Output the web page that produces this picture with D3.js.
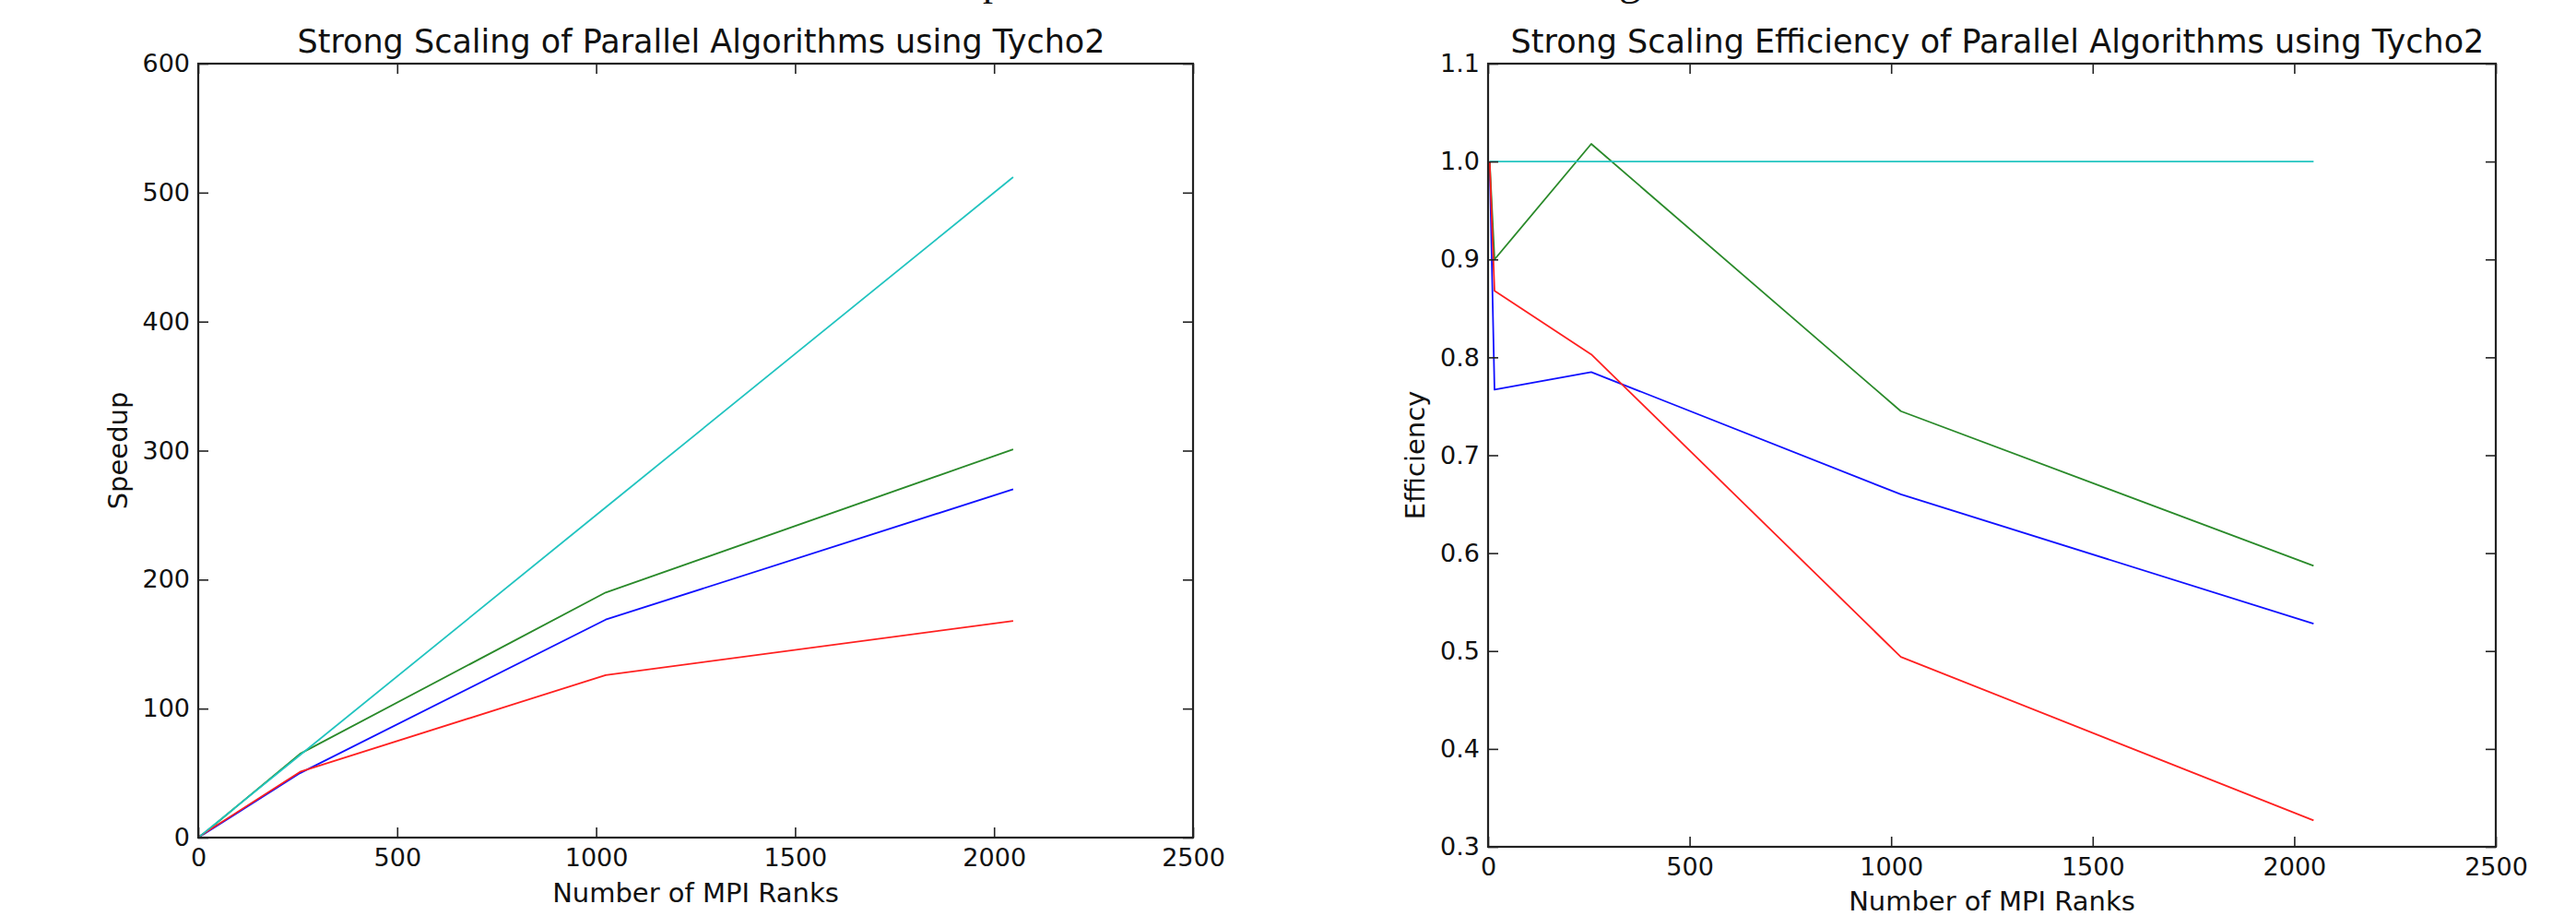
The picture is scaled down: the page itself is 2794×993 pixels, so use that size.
<!DOCTYPE html>
<html>
<head>
<meta charset="utf-8">
<script src="https://cdn.jsdelivr.net/npm/d3@7"></script>
<style>
  body { margin: 0; background: #fff; }
  svg text { font-family: "DejaVu Sans", sans-serif; fill: #111; }
</style>
</head>
<body>
<div id="chart"></div>
<script>
// data
const ranks = [4, 16, 256, 1024, 2048];
const seriesNames = ["blue", "green", "red", "cyan"];

const speedupBlue  = [1, 3.1, 50, 169, 270];
const speedupGreen = [1, 3.6, 65, 190, 301];
const speedupRed   = [1, 3.5, 51, 126, 168];
const speedupCyan  = [1, 4, 64, 256, 512];

const effBlue  = [1, 0.767, 0.785, 0.660, 0.528];
const effGreen = [1, 0.900, 1.018, 0.745, 0.587];
const effRed   = [1, 0.868, 0.803, 0.494, 0.327];
const effCyan  = [1, 1, 1, 1, 1];

const xTicks = [0, 500, 1000, 1500, 2000, 2500];
const speedupTicks = [0, 100, 200, 300, 400, 500, 600];
const effTicks = [0.3, 0.4, 0.5, 0.6, 0.7, 0.8, 0.9, 1.0, 1.1];

const colors = ["#1010ff", "#2a8a2a", "#ff2020", "#22c4c0"];

const svgWidth = 2794;
const svgHeight = 993;

const svg = d3.select("#chart")
    .append("svg")
    .attr("width", svgWidth)
    .attr("height", svgHeight);

// clipped caption fragments at the very top
svg.append("text")
    .attr("x", 1077).attr("y", -5)
    .attr("text-anchor", "middle")
    .style("font-family", "'Liberation Serif', serif")
    .style("font-size", "44px")
    .text("p");
svg.append("text")
    .attr("x", 1768).attr("y", -6)
    .attr("text-anchor", "middle")
    .style("font-family", "'Liberation Serif', serif")
    .style("font-size", "48px")
    .text("g");

function drawPanel(opt) {
  const g = svg.append("g");

  const x = d3.scaleLinear().domain([0, 2500]).range([opt.left, opt.right]);
  const y = d3.scaleLinear().domain(opt.yDomain).range([opt.bottom, opt.top]);

  // lines
  const line = d3.line()
      .x((d, i) => x(ranks[i]))
      .y(d => y(d));

  opt.series.forEach((vals, k) => {
    g.append("path")
        .datum(vals)
        .attr("d", line)
        .attr("fill", "none")
        .attr("stroke", colors[k])
        .attr("stroke-width", 1.8)
        .attr("stroke-linejoin", "round");
  });

  // axes, ticks pointing inward on all four sides
  const bottomAxis = d3.axisBottom(x).tickValues(xTicks)
      .tickFormat(d3.format("d")).tickSizeInner(-11).tickSizeOuter(0).tickPadding(12);
  const topAxis = d3.axisTop(x).tickValues(xTicks)
      .tickFormat("").tickSizeInner(-11).tickSizeOuter(0);
  const leftAxis = d3.axisLeft(y).tickValues(opt.yTicks)
      .tickFormat(opt.yFormat).tickSizeInner(-11).tickSizeOuter(0).tickPadding(9);
  const rightAxis = d3.axisRight(y).tickValues(opt.yTicks)
      .tickFormat("").tickSizeInner(-11).tickSizeOuter(0);

  const axes = [
    g.append("g").attr("transform", `translate(0, ${opt.bottom})`).call(bottomAxis),
    g.append("g").attr("transform", `translate(0, ${opt.top})`).call(topAxis),
    g.append("g").attr("transform", `translate(${opt.left}, 0)`).call(leftAxis),
    g.append("g").attr("transform", `translate(${opt.right}, 0)`).call(rightAxis)
  ];
  axes.forEach(a => {
    a.select(".domain").remove();
    a.selectAll(".tick line").attr("stroke", "#222").attr("stroke-width", 1.6);
    a.selectAll(".tick text")
        .style("font-family", "'DejaVu Sans', sans-serif")
        .style("font-size", "27px")
        .attr("fill", "#111");
  });

  // frame
  g.append("rect")
      .attr("x", opt.left)
      .attr("y", opt.top)
      .attr("width", opt.right - opt.left)
      .attr("height", opt.bottom - opt.top)
      .attr("fill", "none")
      .attr("stroke", "#222")
      .attr("stroke-width", 2.2);

  // title
  g.append("text")
      .attr("x", (opt.left + opt.right) / 2 + 6)
      .attr("y", 57)
      .attr("text-anchor", "middle")
      .style("font-size", "35px")
      .text(opt.title);

  // axis labels
  g.append("text")
      .attr("x", (opt.left + opt.right) / 2)
      .attr("y", opt.xLabelY)
      .attr("text-anchor", "middle")
      .style("font-size", "29px")
      .text("Number of MPI Ranks");

  g.append("text")
      .attr("transform", `translate(${opt.yLabelX}, ${(opt.top + opt.bottom) / 2}) rotate(-90)`)
      .attr("text-anchor", "middle")
      .style("font-size", "29px")
      .text(opt.yLabel);
}

drawPanel({
  left: 215, right: 1294, top: 69, bottom: 908,
  yDomain: [0, 600],
  yTicks: speedupTicks,
  yFormat: d3.format("d"),
  series: [speedupBlue, speedupGreen, speedupRed, speedupCyan],
  title: "Strong Scaling of Parallel Algorithms using Tycho2",
  yLabel: "Speedup",
  yLabelX: 138,
  xLabelY: 978
});

drawPanel({
  left: 1614, right: 2707, top: 69, bottom: 918,
  yDomain: [0.3, 1.1],
  yTicks: effTicks,
  yFormat: d3.format(".1f"),
  series: [effBlue, effGreen, effRed, effCyan],
  title: "Strong Scaling Efficiency of Parallel Algorithms using Tycho2",
  yLabel: "Efficiency",
  yLabelX: 1545,
  xLabelY: 987
});
</script>
</body>
</html>
